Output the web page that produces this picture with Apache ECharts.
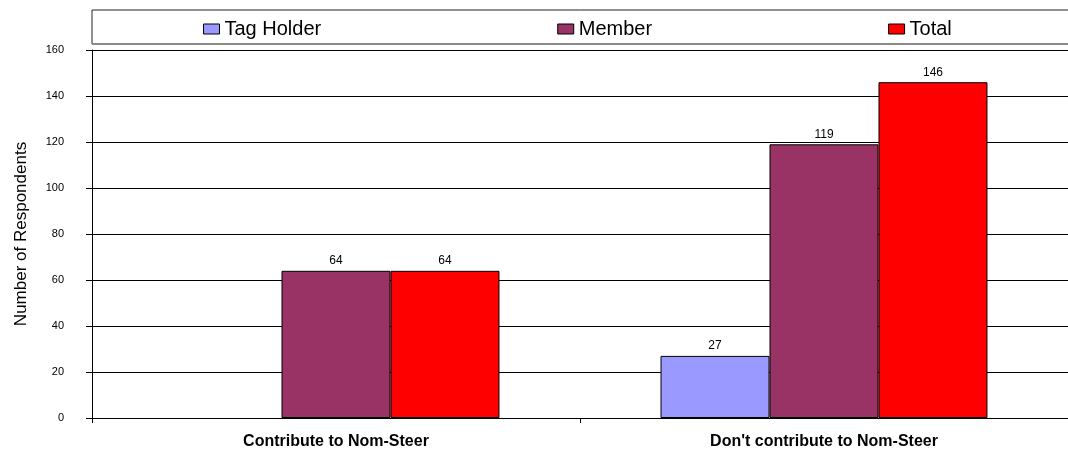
<!DOCTYPE html>
<html>
<head>
<meta charset="utf-8">
<script src="https://cdn.jsdelivr.net/npm/echarts@6/dist/echarts.min.js"></script>
<style>
  html, body { margin: 0; padding: 0; background: #fff; }
  #main { width: 1068px; height: 457px; }
</style>
</head>
<body>
<div id="main"></div>
<script>
const categories = ["Contribute to Nom-Steer", "Don't contribute to Nom-Steer"];
const tagHolder = [null, 27];
const member = [64, 119];
const total = [64, 146];
const yTicks = { min: 0, max: 160, interval: 20 };

let chart = echarts.init(document.getElementById("main"));

let labelStyle = {
  show: true,
  position: "top",
  distance: 4,
  color: "#000",
  fontSize: 12,
  fontFamily: "Liberation Sans, Arial",
};

let makeSeries = (name, data, color) => ({
  name: name,
  type: "bar",
  data: data,
  barGap: 0,
  barCategoryGap: "33%",
  itemStyle: { color: color, borderColor: "#000", borderWidth: 1 },
  label: labelStyle,
});

let option = {
  animation: false,
  textStyle: { fontFamily: "Liberation Sans, Arial" },
  graphic: [
    {
      type: "rect",
      shape: { x: 92, y: 10, width: 990, height: 34 },
      style: { fill: "#fff", stroke: "#222", lineWidth: 1 },
      z: 0,
    },
    {
      type: "line",
      shape: { x1: 92, y1: 44, x2: 1068, y2: 44 },
      style: { stroke: "#888", lineWidth: 1.5 },
      z: 1,
    },
  ],
  legend: {
    left: 198,
    top: 14,
    itemGap: 236,
    itemWidth: 16,
    itemHeight: 10,
    icon: "rect",
    itemStyle: { borderColor: "#000", borderWidth: 1 },
    textStyle: { fontSize: 20, color: "#000" },
    data: ["Tag Holder", "Member", "Total"],
  },
  grid: { left: 92, right: 0, top: 50, bottom: 39 },
  xAxis: {
    type: "category",
    data: categories,
    axisLine: { lineStyle: { color: "#000", width: 1 } },
    axisTick: { show: true, length: 5, lineStyle: { color: "#000" } },
    axisLabel: {
      color: "#000",
      fontSize: 16,
      fontWeight: "bold",
      margin: 16,
    },
  },
  yAxis: {
    type: "value",
    min: yTicks.min,
    max: yTicks.max,
    interval: yTicks.interval,
    name: "Number of Respondents",
    nameLocation: "middle",
    nameGap: 62,
    nameTextStyle: { fontSize: 17, color: "#000" },
    axisLine: { show: true, lineStyle: { color: "#000", width: 1 } },
    axisTick: { show: true, length: 6, lineStyle: { color: "#000" } },
    axisLabel: { color: "#000", fontSize: 11, margin: 28 },
    splitLine: { show: true, lineStyle: { color: "#000", width: 1 } },
  },
  series: [
    makeSeries("Tag Holder", tagHolder, "#9999FF"),
    makeSeries("Member", member, "#993366"),
    makeSeries("Total", total, "#FF0000"),
  ],
};
chart.setOption(option);
</script>
</body>
</html>
